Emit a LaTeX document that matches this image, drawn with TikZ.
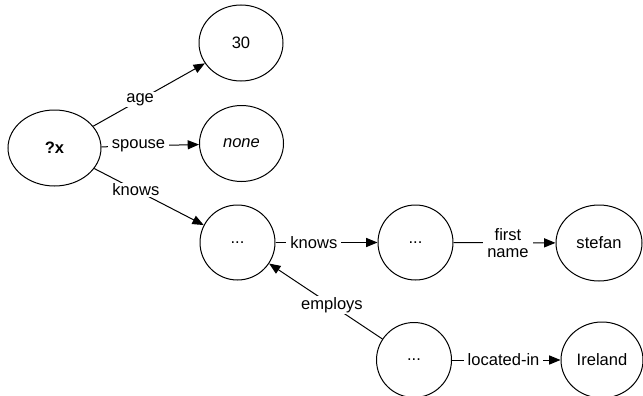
\documentclass[tikz,border=0pt]{standalone}
\usepackage{fontspec}
\setmainfont{Liberation Sans}
\usetikzlibrary{arrows.meta,shapes.geometric}
\begin{document}
\begin{tikzpicture}[x=0.75pt,y=-0.75pt,
  every node/.style={font=\fontsize{12.4}{12.8}\selectfont},
  ell/.style={draw,ellipse,line width=0.75pt,inner sep=0pt,minimum height=57pt},
  circ/.style={draw,circle,line width=0.75pt,inner sep=0pt,minimum size=56.25pt},
  edge/.style={line width=0.75pt,-{Triangle[length=8.5pt,width=6.8pt]}},
  lbl/.style={fill=white,inner xsep=3pt,inner ysep=1pt,align=center}]
\useasboundingbox (0,0) rectangle (643,396);
\node[ell,minimum width=69.75pt] (x) at (54.5,148) {\textbf{?x}};
\node[ell,minimum width=63pt] (n30) at (241,43) {30};
\node[ell,minimum width=63pt] (none) at (241.5,143.5) {\textit{none}};
\node[circ] (d1) at (237.5,242.5) {...};
\node[circ] (d2) at (415.5,242.5) {...};
\node[ell,minimum width=64.5pt] (stefan) at (599,243) {stefan};
\node[circ] (d3) at (414,360) {...};
\node[ell,minimum width=61.5pt] (ireland) at (602,360) {Ireland};
\draw[edge] (x) -- node[lbl,pos=0.42] (lage) {age} (n30);
\draw[edge] (x) -- node[lbl,pos=0.38] (lspouse) {spouse} (none);
\draw[edge] (x) -- node[lbl,pos=0.38] (lknows1) {knows} (d1);
\draw[edge] (d1) -- node[lbl,pos=0.376] (lknows2) {knows} (d2);
\draw[edge] (d2) -- node[lbl,pos=0.534] (lfirst) {first\\name} (stefan);
\draw[edge] (d3) -- node[lbl,pos=0.445] (lemploys) {employs} (d1);
\draw[edge] (d3) -- node[lbl,pos=0.475] (lloc) {located-in} (ireland);
\end{tikzpicture}
\end{document}
